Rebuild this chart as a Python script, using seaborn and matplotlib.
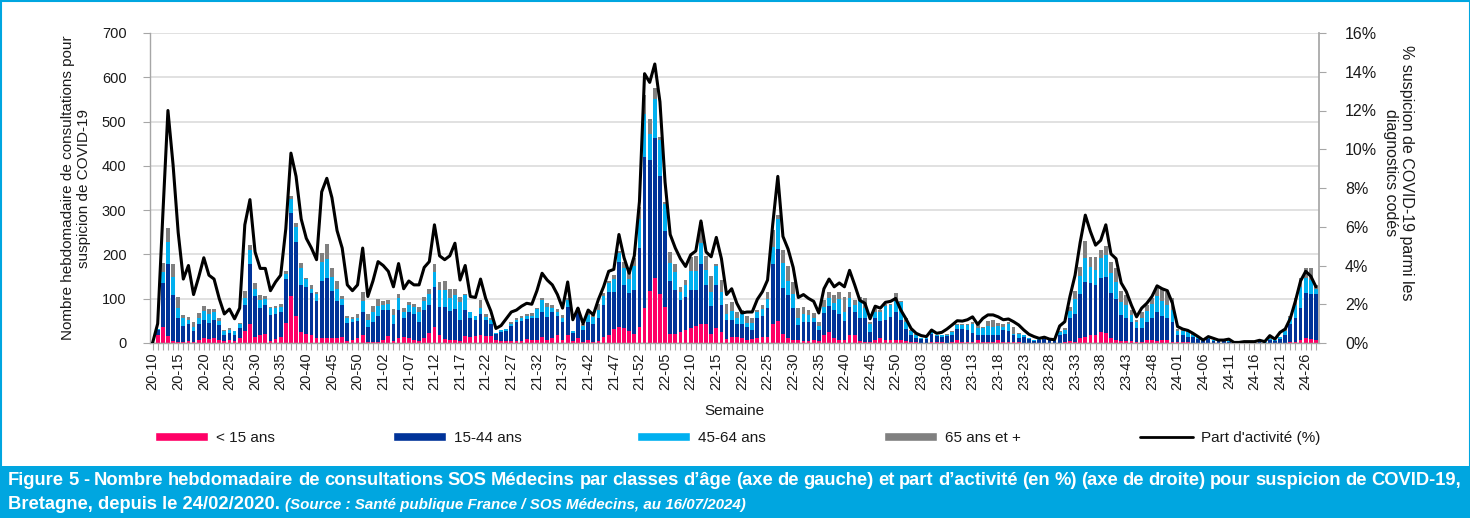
import numpy as np
import pandas as pd
import matplotlib
matplotlib.use("Agg")
import matplotlib.pyplot as plt
import seaborn as sns
from matplotlib.patches import Rectangle, Patch
from matplotlib.lines import Line2D

# ---------------- categories ----------------
YEAR_WEEKS = [(2020, 10, 53), (2021, 1, 52), (2022, 1, 52), (2023, 1, 52), (2024, 1, 28)]
weeks = [f"{y % 100:02d}-{w:02d}" for y, a, b in YEAR_WEEKS for w in range(a, b + 1)]

# ---------------- series (weekly consultations) ----------------
moins_15 = [
    1, 18, 37, 16, 5, 3, 3, 5, 3, 6,
    11, 8, 11, 6, 5, 6, 5, 11, 28, 42,
    14, 17, 20, 5, 8, 13, 46, 106, 62, 24,
    20, 19, 11, 11, 11, 11, 11, 14, 5, 7,
    11, 18, 2, 3, 3, 7, 16, 5, 11, 14,
    11, 7, 5, 11, 22, 37, 18, 8, 7, 7,
    5, 16, 14, 16, 18, 16, 16, 7, 5, 5,
    5, 5, 5, 8, 7, 6, 14, 6, 11, 18,
    6, 18, 5, 11, 3, 6, 3, 5, 14, 18,
    32, 37, 33, 26, 20, 37, 80, 117, 146, 111,
    82, 21, 21, 24, 29, 33, 39, 44, 42, 21,
    33, 24, 9, 14, 14, 12, 7, 8, 11, 13,
    14, 44, 50, 20, 11, 7, 7, 5, 5, 6,
    5, 18, 24, 11, 7, 7, 18, 18, 5, 3,
    3, 6, 11, 6, 6, 7, 6, 5, 3, 2,
    1, 1, 3, 2, 2, 1, 2, 7, 3, 3,
    3, 7, 3, 3, 3, 7, 3, 3, 2, 2,
    1, 1, 0, 0, 1, 0, 0, 1, 2, 5,
    3, 11, 14, 17, 18, 24, 22, 11, 7, 5,
    5, 5, 3, 3, 7, 6, 5, 7, 6, 3,
    2, 2, 2, 1, 1, 0, 1, 0, 0, 0,
    0, 0, 0, 0, 0, 0, 0, 0, 0, 0,
    0, 1, 2, 3, 7, 11, 8, 6,
]
de_15_44 = [
    1, 11, 98, 162, 103, 53, 36, 37, 24, 36,
    42, 37, 40, 35, 13, 16, 12, 24, 58, 136,
    92, 63, 66, 58, 58, 58, 98, 188, 165, 107,
    106, 93, 84, 130, 135, 106, 84, 72, 41, 41,
    39, 53, 35, 45, 59, 67, 58, 37, 63, 43,
    60, 58, 43, 63, 64, 90, 64, 74, 65, 69,
    46, 58, 43, 35, 47, 35, 26, 14, 20, 22,
    33, 43, 45, 46, 49, 51, 57, 53, 60, 43,
    42, 64, 17, 58, 26, 42, 39, 51, 72, 98,
    84, 145, 99, 86, 100, 177, 339, 296, 316, 267,
    171, 119, 99, 72, 76, 87, 81, 134, 89, 63,
    98, 62, 44, 39, 30, 32, 30, 22, 45, 48,
    64, 134, 162, 105, 97, 73, 34, 43, 43, 42,
    24, 49, 60, 63, 59, 43, 64, 51, 52, 54,
    21, 50, 39, 47, 53, 62, 46, 27, 15, 10,
    8, 7, 18, 13, 11, 14, 15, 25, 29, 26,
    19, 11, 15, 15, 15, 11, 26, 23, 16, 10,
    13, 9, 5, 6, 7, 7, 5, 17, 18, 52,
    63, 99, 123, 118, 114, 122, 126, 101, 92, 58,
    51, 42, 30, 30, 41, 50, 66, 54, 51, 44,
    15, 15, 12, 13, 9, 5, 7, 5, 4, 4,
    3, 2, 2, 2, 2, 2, 3, 1, 6, 4,
    8, 16, 42, 53, 73, 101, 102, 104,
]
de_45_64 = [
    1, 2, 26, 49, 41, 22, 18, 9, 9, 14,
    19, 20, 18, 9, 8, 7, 9, 8, 15, 32,
    17, 17, 13, 16, 12, 11, 12, 31, 36, 38,
    18, 11, 15, 43, 44, 33, 28, 13, 10, 6,
    6, 24, 14, 23, 22, 12, 13, 21, 27, 12,
    15, 17, 23, 21, 24, 34, 37, 37, 30, 32,
    42, 35, 14, 11, 15, 8, 10, 2, 4, 4,
    6, 5, 7, 8, 6, 20, 25, 23, 7, 10,
    9, 16, 6, 5, 10, 15, 17, 18, 21, 19,
    28, 21, 38, 32, 55, 67, 98, 60, 89, 80,
    61, 40, 40, 20, 26, 43, 43, 47, 33, 32,
    44, 30, 12, 19, 12, 21, 9, 16, 13, 16,
    22, 39, 67, 55, 31, 30, 16, 17, 15, 8,
    9, 15, 18, 16, 33, 21, 20, 17, 38, 21,
    20, 15, 19, 31, 27, 26, 41, 16, 8, 5,
    3, 3, 4, 3, 4, 3, 7, 9, 9, 12,
    22, 17, 17, 20, 19, 20, 8, 18, 3, 8,
    4, 2, 2, 2, 2, 2, 2, 7, 9, 15,
    33, 42, 54, 37, 33, 45, 51, 45, 38, 30,
    30, 16, 15, 23, 24, 31, 36, 34, 29, 27,
    9, 10, 10, 5, 4, 2, 3, 2, 2, 2,
    2, 1, 1, 1, 1, 1, 1, 1, 4, 2,
    5, 9, 12, 30, 47, 35, 32, 13,
]
plus_65 = [
    0, 0, 20, 32, 29, 25, 6, 8, 12, 12,
    12, 12, 8, 7, 3, 4, 2, 3, 16, 11,
    13, 11, 8, 2, 6, 5, 7, 6, 8, 12,
    3, 9, 6, 19, 34, 19, 17, 8, 6, 5,
    10, 21, 14, 13, 15, 9, 10, 13, 10, 11,
    7, 6, 11, 10, 13, 17, 18, 21, 21, 15,
    12, 2, 0, 0, 16, 6, 4, 0, 0, 1,
    4, 3, 5, 4, 6, 3, 6, 9, 8, 5,
    6, 3, 0, 6, 5, 4, 4, 13, 7, 5,
    9, 5, 12, 21, 16, 27, 43, 32, 24, 8,
    5, 26, 18, 10, 11, 32, 34, 49, 32, 36,
    3, 26, 22, 20, 15, 9, 16, 10, 5, 8,
    16, 38, 10, 30, 36, 28, 23, 17, 11, 11,
    10, 15, 14, 18, 17, 34, 14, 11, 10, 23,
    4, 7, 5, 5, 1, 19, 2, 8, 3, 3,
    0, 0, 1, 0, 0, 2, 3, 3, 1, 3,
    4, 9, 2, 12, 14, 8, 7, 3, 16, 2,
    0, 0, 0, 0, 1, 0, 0, 2, 6, 10,
    18, 20, 39, 23, 30, 18, 21, 25, 33, 24,
    22, 11, 4, 13, 14, 15, 18, 28, 30, 28,
    6, 2, 2, 1, 0, 0, 0, 0, 0, 0,
    0, 0, 0, 0, 0, 0, 0, 0, 1, 1,
    1, 6, 6, 15, 19, 23, 27, 9,
]
part_activite = [
    0, 1.0, 6.6, 12.0, 9.2, 5.7, 3.3, 4.0, 2.5, 3.4,
    4.4, 3.5, 3.3, 2.3, 1.5, 1.75, 1.25, 1.8, 6.1, 7.4,
    4.7, 3.85, 3.85, 2.7, 3.15, 3.5, 5.9, 9.8, 8.6, 6.4,
    5.4, 4.9, 4.3, 7.8, 8.5, 7.5, 5.8, 4.9, 3.0, 2.7,
    3.0, 4.9, 2.4, 3.2, 4.2, 4.0, 3.7, 2.9, 4.1, 2.8,
    3.2, 3.0, 3.0, 3.9, 4.2, 6.1, 4.5, 4.3, 4.5, 5.15,
    3.25, 4.0, 2.4, 2.35, 3.3, 2.3, 1.65, 0.75, 0.9, 1.25,
    1.6, 1.7, 1.9, 2.05, 2.0, 2.7, 3.6, 3.25, 3.0, 2.5,
    1.8, 3.15, 1.2, 1.8, 1.0, 1.7, 1.45, 2.25, 2.9, 3.7,
    3.8, 5.6, 4.4, 3.6, 4.5, 7.3, 13.9, 13.45, 14.4, 12.45,
    8.3, 5.6, 4.9, 4.35, 3.95, 4.55, 4.75, 6.3, 4.7, 4.45,
    5.45, 4.35, 2.5, 2.8, 2.05, 1.55, 1.6, 1.6, 2.25, 2.65,
    3.25, 6.1, 8.6, 5.5, 4.85, 3.9, 2.35, 2.5, 2.3, 2.15,
    1.55, 2.8, 3.3, 2.9, 3.1, 2.9, 3.75, 3.0, 2.2, 2.05,
    1.25, 1.9, 1.8, 2.1, 2.15, 2.3, 1.7, 1.25, 0.75, 0.5,
    0.38, 0.33, 0.67, 0.5, 0.55, 0.72, 0.93, 1.15, 1.13, 1.2,
    1.35, 0.96, 1.27, 1.45, 1.45, 1.35, 1.2, 1.24, 1.1, 0.93,
    0.67, 0.45, 0.33, 0.24, 0.3, 0.2, 0.17, 0.88, 1.1, 2.4,
    3.5, 5.2, 6.6, 5.75, 5.05, 5.3, 6.1, 4.6, 4.35, 3.1,
    2.65, 1.95, 1.35, 1.8, 2.05, 2.4, 2.95, 2.8, 2.7, 2.05,
    0.85, 0.72, 0.65, 0.5, 0.33, 0.15, 0.33, 0.24, 0.15, 0.15,
    0.2, 0.03, 0.03, 0.07, 0.07, 0.07, 0.14, 0.07, 0.38, 0.2,
    0.55, 0.72, 1.27, 2.17, 3.2, 3.7, 3.45, 2.9,
]

series_labels = ["< 15 ans", "15-44 ans", "45-64 ans", "65 ans et +"]
line_label = "Part d'activité (%)"
y_left_ticks = [0, 100, 200, 300, 400, 500, 600, 700]
y_right_ticks = [0, 2, 4, 6, 8, 10, 12, 14, 16]

C_PINK = "#FF0066"
C_DARK = "#003399"
C_LIGHT = "#00B0F0"
C_GRAY = "#808080"
C_FRAME = "#00A6E0"

# ---------------- figure ----------------
sns.set_theme(style="white")
plt.rcParams["font.family"] = ["Liberation Sans", "DejaVu Sans"]

W, H = 1470, 518
fig = plt.figure(figsize=(W / 100, H / 100), dpi=100)
fig.patch.set_facecolor("white")

ax = fig.add_axes([150 / W, 1 - 343 / H, (1318.5 - 150) / W, 310 / H])

df = pd.DataFrame({
    "semaine": weeks,
    "s1": moins_15, "s2": de_15_44, "s3": de_45_64, "s4": plus_65,
})
df["c1"] = df["s1"]
df["c2"] = df["c1"] + df["s2"]
df["c3"] = df["c2"] + df["s3"]
df["c4"] = df["c3"] + df["s4"]

for col, color in [("c4", C_GRAY), ("c3", C_LIGHT), ("c2", C_DARK), ("c1", C_PINK)]:
    sns.barplot(data=df, x="semaine", y=col, order=weeks, color=color, saturation=1,
                width=0.72, linewidth=0, errorbar=None, ax=ax)

n = len(weeks)
ax.set_xlim(-0.5, n - 0.5)
ax.set_ylim(0, 700)
ax.set_yticks(y_left_ticks)
ax.set_yticklabels([str(v) for v in y_left_ticks], fontsize=10.5, color="#1a1a1a")
ax.set_xticks(list(range(0, n, 5)))
ax.set_xticklabels(weeks[::5], rotation=90, fontsize=10.5, color="#1a1a1a")
ax.set_xticks(list(range(n)), minor=True)
ax.tick_params(axis="x", which="both", direction="out", length=5, width=0.8, color="#A6A6A6",
               bottom=True, pad=2)
ax.tick_params(axis="y", direction="out", length=5, width=0.8, color="#A6A6A6", left=True, pad=12)
ax.yaxis.grid(True, color="#D9D9D9", lw=1.1)
ax.set_axisbelow(True)
for s in ["top", "right"]:
    ax.spines[s].set_visible(False)
for s in ["left", "bottom"]:
    ax.spines[s].set_color("#A6A6A6")
    ax.spines[s].set_linewidth(1)

ax.set_xlabel("Semaine", fontsize=11, color="#1a1a1a", labelpad=10)
ax.set_ylabel("Nombre hebdomadaire de consultations pour\nsuspicion de COVID-19", fontsize=11,
              color="#1a1a1a", linespacing=1.15)
ax.yaxis.set_label_coords(-0.0505, 0.5)

ax2 = ax.twinx()
sns.lineplot(x=np.arange(n), y=part_activite, ax=ax2, color="black", lw=2.2)
ax2.set_xlim(-0.5, n - 0.5)
ax2.set_ylim(0, 16)
ax2.set_yticks(y_right_ticks)
ax2.set_yticklabels([f"{v}%" for v in y_right_ticks], fontsize=11.5, color="#1a1a1a")
ax2.tick_params(axis="y", direction="out", length=5, width=0.8, color="#A6A6A6", right=True, pad=14)
for s in ["top", "left", "bottom"]:
    ax2.spines[s].set_visible(False)
ax2.spines["right"].set_color("#A6A6A6")
ax2.set_ylabel("% suspicion de COVID-19 parmi les\ndiagnostics codés", rotation=270,
               fontsize=11.5, color="#1a1a1a", linespacing=1.15, va="center")
ax2.yaxis.set_label_coords(1.0685, 0.55)

# ---------------- legend ----------------
handles = [Patch(facecolor=C_PINK), Patch(facecolor=C_DARK), Patch(facecolor=C_LIGHT),
           Patch(facecolor=C_GRAY), Line2D([], [], color="black", lw=2)]
labels = series_labels + [line_label]
xs = [155, 393, 637, 884, 1140]
for h, l, x in zip(handles, labels, xs):
    fig.legend(handles=[h], labels=[l], loc="center left", bbox_to_anchor=(x / W, 1 - 438 / H),
               frameon=False, fontsize=11, handlelength=3.5, handleheight=0.55,
               handletextpad=0.5, borderpad=0, borderaxespad=0, labelcolor="#1a1a1a")

# ---------------- caption box & frame ----------------
fig.patches.append(Rectangle((0, 0), 1, 52 / H, transform=fig.transFigure,
                             facecolor=C_FRAME, edgecolor="none", zorder=0))
fig.patches.append(Rectangle((0.5 / W, 0.5 / H), 1 - 1 / W, 1 - 1 / H, transform=fig.transFigure,
                             facecolor="none", edgecolor=C_FRAME, lw=1.5, zorder=5))

renderer = fig.canvas.get_renderer()
cap_kw = dict(color="white", fontweight="bold", va="baseline", ha="left")
line1 = ("Figure 5 - Nombre hebdomadaire de consultations SOS Médecins par classes d’âge "
         "(axe de gauche) et part d’activité (en %) (axe de droite) pour suspicion de COVID-19,")
words = line1.split(" ")
x0, x1 = 8, 1461
y1 = 1 - 485 / H
txts = [fig.text(0, y1, w, fontsize=13.2, **cap_kw) for w in words]
widths = [t.get_window_extent(renderer).width for t in txts]
gap = ((x1 - x0) - sum(widths)) / (len(words) - 1)
xc = x0
for t, wd in zip(txts, widths):
    t.set_x(xc / W)
    xc += wd + gap

y2 = 1 - 509 / H
t_a = fig.text(x0 / W, y2, "Bretagne, depuis le 24/02/2020. ", fontsize=13.2, **cap_kw)
wa = t_a.get_window_extent(renderer).width
fig.text((x0 + wa) / W, y2, "(Source : Santé publique France / SOS Médecins, au 16/07/2024)",
         style="italic", fontsize=10.9, **cap_kw)

fig.savefig("out.png", dpi=100, facecolor="white")
